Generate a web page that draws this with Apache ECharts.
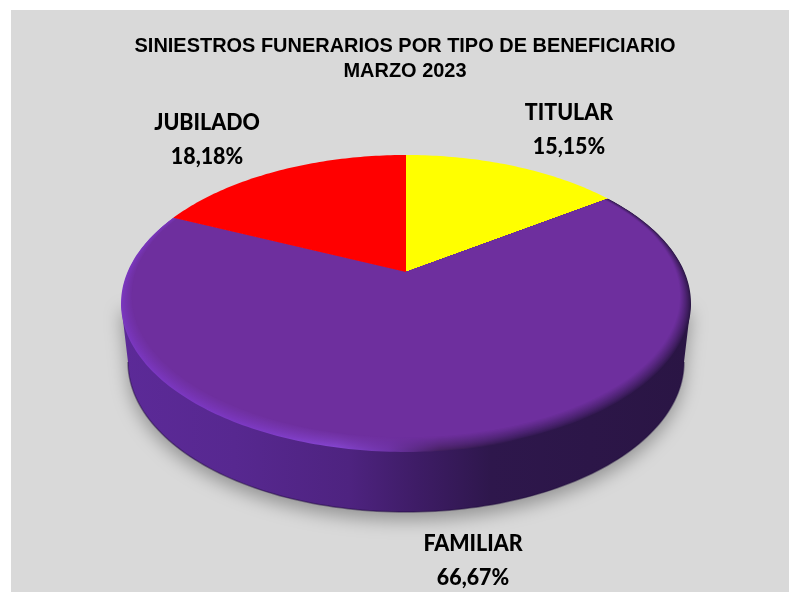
<!DOCTYPE html>
<html><head><meta charset="utf-8">
<style>html,body{margin:0;padding:0;background:#fff}#c{width:789px;height:592px}</style>
<script src="https://cdn.jsdelivr.net/npm/echarts@6/dist/echarts.min.js"></script>
</head><body><div id="c"></div>
<script>
const categories = ['TITULAR', 'FAMILIAR', 'JUBILADO'];
const shares = [15.15, 66.67, 18.18];
const sliceColors = ['#ffff00', '#6e2f9e', '#ff0000'];
const titleLines = ['SINIESTROS FUNERARIOS POR TIPO DE BENEFICIARIO', 'MARZO 2023'];
const labelAnchors = [[569, 113], [473, 544], [207, 123]];

const P = {cx: 406, cy: 272, A: 278.5, B: 141.8, k: 0.212};
function project(theta, r) {
  const u = Math.sin(theta) * r, v = Math.cos(theta) * r;
  const w = 1 + P.k * v;
  return [P.cx + P.A * u / w, P.cy - P.B * v / w];
}
const total = shares.reduce((a, b) => a + b, 0);
function sliceRange(i) {
  let s = 0;
  for (let j = 0; j < i; j++) s += shares[j];
  return [s / total * 2 * Math.PI, (s + shares[i]) / total * 2 * Math.PI];
}
function slicePoints(i, inset) {
  const [a, b] = sliceRange(i);
  const pts = [[P.cx, P.cy]];
  const n = Math.max(8, Math.round((b - a) * 60));
  for (let t = 0; t <= n; t++) {
    const th = a + (b - a) * t / n;
    const v = Math.cos(th);
    const w = 0.3 + 0.7 * Math.max(0, (0.3 - v) / 1.3);
    pts.push(project(th, 1 - inset * w));
  }
  return pts;
}
function hex(c) { return [1, 3, 5].map(o => parseInt(c.substr(o, 2), 16)); }
function mix(c1, c2, t) {
  const a = hex(c1), b = hex(c2);
  return 'rgb(' + a.map((x, i) => Math.round(x + (b[i] - x) * t)).join(',') + ')';
}
function xGrad(stops, x0, x1) {
  return {type: 'linear', x: x0, y: 0, x2: x1, y2: 0, global: true,
    colorStops: stops.map(s => ({offset: s[0], color: s[1]}))};
}
function renderBase() {
  const lower = {cx: 406, cy: 362, rx: 278, ry: 150};
  const thR = Math.acos(-P.k);
  const pts = [project(thR, 1)], edge = [];
  for (let t = 0; t <= 120; t++) {
    const a = Math.PI * t / 120;
    const p = [lower.cx + lower.rx * Math.cos(a), lower.cy + lower.ry * Math.sin(a)];
    pts.push(p); edge.push(p);
  }
  pts.push(project(-thR, 1));
  const wallStops = [[0, '#5c2a98'], [0.2, '#572890'], [0.4, '#4e2380'], [0.52, '#3e1c66'], [0.65, '#2e174c'], [1, '#2a1544']];
  return {type: 'group', children: [
    {type: 'rect', shape: {x: 11, y: 10, width: 778, height: 582}, style: {fill: '#d9d9d9'}, silent: true},
    {type: 'polygon', shape: {points: pts}, style: {
      fill: xGrad(wallStops, 121, 690),
      shadowBlur: 18, shadowColor: 'rgba(0,0,0,0.32)', shadowOffsetY: 8, shadowOffsetX: 0
    }},
    {type: 'polyline', shape: {points: edge}, style: {fill: null, stroke: 'rgba(30,10,60,0.45)', lineWidth: 1.5}}
  ]};
}
const rimStops = [[0, '#7a37c0'], [0.2, '#7c38c2'], [0.38, '#8444ce'], [0.47, '#6f33a8'], [0.56, '#43205f'], [0.7, '#2e174c'], [1, '#2a1544']];
function renderSlice(params, api) {
  const i = params.dataIndex;
  const base = sliceColors[i];
  const kids = [];
  const fam = categories[i] === 'FAMILIAR';
  if (fam) {
    const N = 14;
    for (let l = 0; l < N; l++) {
      const t = l / N;
      kids.push({type: 'polygon', shape: {points: slicePoints(i, 0.065 * t)}, style: {
        fill: xGrad(rimStops.map(s => [s[0], mix(s[1], base, Math.pow(t, 0.8))]), 121, 690)
      }});
    }
  }
  kids.push({type: 'polygon', shape: {points: slicePoints(i, fam ? 0.065 : 0)}, style: {fill: base}});
  const a = labelAnchors[i];
  const pct = api.value(0).toFixed(2).replace('.', ',') + '%';
  [[categories[i], 0], [pct, 34]].forEach(([txt, dy]) => {
    kids.push({type: 'text', x: a[0], y: a[1] + dy, scaleX: 0.93, style: {
      text: txt, align: 'center', verticalAlign: 'middle',
      font: '900 23px Lato', fill: '#000'}});
  });
  return {type: 'group', children: kids};
}
const chart = echarts.init(document.getElementById('c'), null, {renderer: 'canvas'});
chart.setOption({
  backgroundColor: '#ffffff',
  animation: false,
  graphic: titleLines.map((t, i) => ({type: 'text', x: 405, y: 46 + i * 25.5, z: 10, scaleX: 0.95, silent: true,
    style: {text: t, align: 'center', verticalAlign: 'middle', font: 'bold 21px "Liberation Sans"', fill: '#000'}})),
  series: [
    {type: 'custom', coordinateSystem: 'none', z: 1, silent: true, data: [[1]], renderItem: renderBase},
    {type: 'custom', coordinateSystem: 'none', z: 2, silent: true,
      data: categories.map((c, i) => ({name: c, value: [shares[i]]})), renderItem: renderSlice}
  ]
});
</script></body></html>
